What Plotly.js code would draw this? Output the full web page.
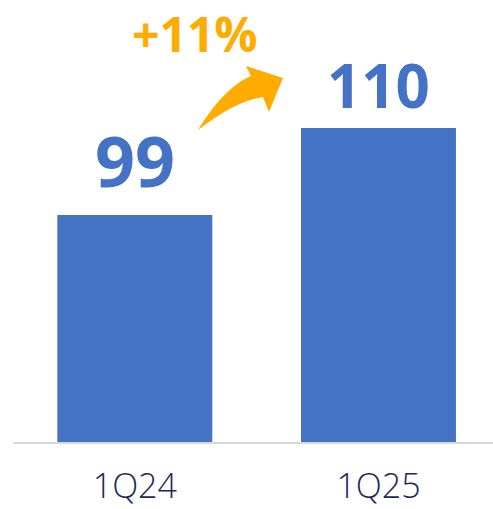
<!DOCTYPE html>
<html><head><meta charset="utf-8">
<script src="https://cdn.plot.ly/plotly-3.0.1.min.js"></script>
<style>html,body{margin:0;padding:0;background:#fff}#chart{width:493px;height:509px}</style>
</head><body><div id="chart"></div>
<script>
const categories = ["1Q24", "1Q25"];
const values = [99, 110];
const valueLabels = ["99", "110"];
const growthLabel = "+11%";

// label styling (kept apart from the data)
const labelSizes = [70, 60];
const labelShifts = [5, 0];

const W = 493, H = 509;
const M = {l: 13, r: 0, t: 0, b: 67};
const PW = W - M.l - M.r, PH = H - M.t - M.b;
function px(x, y) { return ((x - M.l) / PW).toFixed(4) + "," + ((H - M.b - y) / PH).toFixed(4); }

const arrowPath =
  "M " + px(198,130) +
  " C " + px(214,104) + " " + px(232,84) + " " + px(251,76) +
  " L " + px(246,66) +
  " L " + px(283,78) +
  " L " + px(269,112) +
  " L " + px(263,97) +
  " C " + px(240,101) + " " + px(222,112) + " " + px(198,130) + " Z";

const trace = {
  type: "bar",
  x: categories,
  y: values,
  marker: {color: "#4472C4"},
  width: 0.636,
  hoverinfo: "skip"
};

const annotations = categories.map((c, i) => ({
  x: c, y: values[i], xref: "x", yref: "y",
  text: "<b>" + valueLabels[i] + "</b>",
  showarrow: false, yanchor: "bottom", yshift: labelShifts[i],
  font: {family: "Open Sans", size: labelSizes[i], color: "#4472C4", weight: 800}
}));
annotations.push({
  xref: "paper", yref: "paper",
  x: (195 - M.l) / PW, y: (H - M.b - 34) / PH,
  text: "<b>" + growthLabel + "</b>", showarrow: false,
  xanchor: "center", yanchor: "middle",
  font: {family: "Open Sans", size: 48, color: "#FFAB00", weight: 800}
});

const layout = {
  width: W, height: H,
  margin: M,
  paper_bgcolor: "#fff", plot_bgcolor: "#fff",
  showlegend: false,
  xaxis: {
    type: "category", range: [-0.5, 1.47],
    showline: true, linecolor: "#D9D9D9", linewidth: 2,
    showgrid: false, zeroline: false, ticks: "",
    ticklabelstandoff: 13,
    tickfont: {family: "Open Sans", size: 34, color: "#1B2A5C", weight: 300}
  },
  yaxis: {
    range: [70.3, 126.2], visible: false, showgrid: false, zeroline: false
  },
  annotations: annotations,
  shapes: [{type: "path", xref: "paper", yref: "paper", path: arrowPath,
            fillcolor: "#FFAB00", line: {width: 0}}]
};

Plotly.newPlot("chart", [trace], layout, {staticPlot: true, displayModeBar: false});
</script></body></html>
